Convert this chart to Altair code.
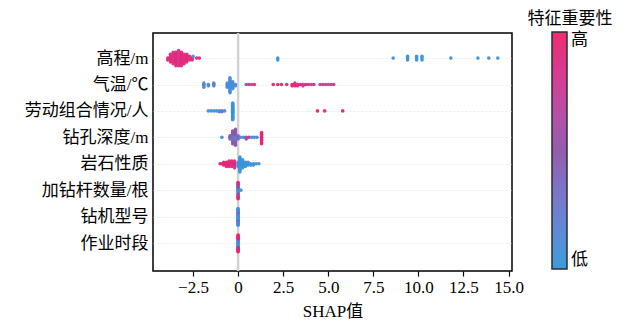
import math
import altair as alt
import pandas as pd

features = ["高程/m", "气温/℃", "劳动组合情况/人", "钻孔深度/m",
            "岩石性质", "加钻杆数量/根", "钻机型号", "作业时段"]

# Each feature: SHAP value of a group of samples, number of samples, feature value (0 = low, 1 = high)
elev_x = [-3.9, -3.75, -3.6, -3.45, -3.3, -3.15, -3.0, -2.85, -2.7, -2.55, -2.5, -2.3, -2.15,
          2.2, 8.6, 9.4, 9.9, 10.2, 11.8, 13.3, 13.9, 14.4]
elev_n = [2, 5, 7, 8, 9, 8, 6, 5, 3, 2, 1, 1, 1,
          2, 1, 3, 3, 3, 1, 1, 1, 1]
elev_c = [0.95, 0.9, 0.85, 0.95, 0.8, 0.95, 0.9, 0.95, 0.9, 0.95, 0.05, 0.95, 0.9,
          0.05, 0.05, 0.05, 0.05, 0.05, 0.05, 0.05, 0.05, 0.05]

temp_x = [-1.9, -1.9, -1.65, -1.35, -0.6, -0.45, -0.3, -0.15,
          0.45, 0.6, 0.75, 0.9, 1.95, 2.2, 2.4, 2.7,
          3.0, 3.15, 3.3, 3.45, 3.6, 3.75, 3.9, 4.05, 4.2,
          4.55, 4.7, 4.85, 5.0, 5.15, 5.3]
temp_n = [2, 2, 2, 3, 4, 12, 6, 2,
          1, 1, 1, 1, 1, 1, 1, 1,
          2, 3, 2, 1, 2, 1, 1, 1, 1,
          1, 1, 1, 1, 1, 1]
temp_c = [0.35, 0.1, 0.1, 0.2, 0.1, 0.08, 0.1, 0.1,
          0.6, 0.85, 0.7, 0.9, 0.95, 0.95, 0.95, 0.9,
          0.95, 0.9, 0.85, 0.95, 0.8, 0.95, 0.9, 0.75, 0.9,
          0.75, 0.8, 0.7, 0.8, 0.75, 0.85]

labor_x = [-1.65, -1.5, -1.35, -1.2, -1.05, -0.9, -0.75, -0.3, 4.4, 4.8, 5.8]
labor_n = [1, 1, 1, 1, 2, 2, 1, 22, 1, 1, 1]
labor_c = [0.05, 0.05, 0.05, 0.1, 0.05, 0.3, 0.1, 0.05, 0.95, 0.95, 0.95]

depth_x = [-0.9, -0.45, -0.3, -0.3, -0.15, -0.15, 0.0,
           0.15, 0.3, 0.45, 0.6, 0.75, 0.9, 1.05, 1.3]
depth_n = [1, 3, 4, 5, 4, 7, 3,
           1, 1, 2, 1, 1, 1, 1, 8]
depth_c = [0.05, 0.45, 0.3, 0.5, 0.2, 0.5, 0.4,
           0.1, 0.1, 0.5, 0.9, 0.1, 0.1, 0.1, 0.95]

rock_x = [-1.0, -0.9, -0.8, -0.65, -0.5, -0.35, -0.35, -0.2, -0.2,
          0.0, 0.1, 0.25, 0.4, 0.55, 0.7, 0.85, 1.0, 1.15]
rock_n = [1, 1, 3, 4, 5, 2, 3, 3, 3,
          4, 12, 7, 4, 3, 2, 2, 1, 1]
rock_c = [0.95, 0.95, 0.9, 0.95, 0.9, 0.7, 0.95, 0.95, 0.8,
          0.1, 0.05, 0.05, 0.05, 0.05, 0.05, 0.05, 0.05, 0.05]

rods_x = [0.0, 0.0, 0.0, 0.15]
rods_n = [6, 7, 5, 1]
rods_c = [0.1, 0.5, 0.95, 0.05]

rig_x = [0.0, 0.0, 0.0]
rig_n = [10, 4, 8]
rig_c = [0.05, 0.45, 0.1]

shift_x = [0.0, 0.0]
shift_n = [10, 12]
shift_c = [0.05, 0.95]

groups = [(elev_x, elev_n, elev_c), (temp_x, temp_n, temp_c), (labor_x, labor_n, labor_c),
          (depth_x, depth_n, depth_c), (rock_x, rock_n, rock_c), (rods_x, rods_n, rods_c),
          (rig_x, rig_n, rig_c), (shift_x, shift_n, shift_c)]

# beeswarm layout (as in shap.summary_plot)
BIN = 0.15
ROW_H = 0.4
records = []
for r, (xs, ns, cs) in enumerate(groups):
    pts = []
    for x, n, c in zip(xs, ns, cs):
        pts += [(x, c)] * n
    q = [round(x / BIN) for x, _ in pts]
    order = sorted(range(len(pts)), key=lambda i: (q[i], i))
    ys = [0] * len(pts)
    layer, last = 0, None
    for i in order:
        if q[i] != last:
            layer = 0
        ys[i] = math.ceil(layer / 2) * ((layer % 2) * 2 - 1)
        layer += 1
        last = q[i]
    m = max(abs(v) for v in ys)
    sc = 0.9 * ROW_H / (m + 1)
    for (x, c), yv in zip(pts, ys):
        records.append({"shap": x, "val": c, "row": r + yv * sc})
df = pd.DataFrame(records)

FONT = "Liberation Serif, Noto Sans CJK SC"
label_expr = "[" + ",".join("'" + f + "'" for f in features) + "][round(datum.value)]"

xscale = alt.Scale(domain=[-4.72, 15.19], nice=False, zero=False)
yscale = alt.Scale(domain=[-0.95, 8.06], reverse=True, nice=False, zero=False)

zero_line = alt.Chart(pd.DataFrame({"z": [0]})).mark_rule(
    color="#d2d2d2", strokeWidth=2.5
).encode(x=alt.X("z:Q", scale=xscale))

points = alt.Chart(df).mark_circle(size=13, opacity=0.95).encode(
    x=alt.X("shap:Q", scale=xscale, title="SHAP值",
            axis=alt.Axis(values=[-2.5, 0, 2.5, 5, 7.5, 10, 12.5, 15],
                          labelExpr="datum.value == 0 ? '0' : format(datum.value, '.1f')",
                          grid=False, domain=False, tickColor="black", tickSize=5,
                          tickWidth=1.2, labelFont=FONT, labelFontSize=17,
                          labelColor="black", labelPadding=3,
                          titleFont=FONT, titleFontSize=17, titleFontWeight="normal",
                          titleColor="black", titlePadding=8)),
    y=alt.Y("row:Q", scale=yscale, title=None,
            axis=alt.Axis(values=list(range(8)), labelExpr=label_expr,
                          grid=True, gridColor="#e6e6e6", gridDash=[2, 2], gridWidth=0.8,
                          domain=False, ticks=False, labelFont=FONT, labelFontSize=17,
                          labelColor="black", labelPadding=5)),
    color=alt.Color("val:Q",
                    scale=alt.Scale(domain=[0, 1], range=["#2F98DA", "#8E54A9", "#EE2268"]),
                    legend=alt.Legend(orient="none", legendX=375, legendY=-22,
                                      direction="vertical", title="特征重要性",
                                      titleFont=FONT, titleFontSize=17,
                                      titleFontWeight="normal", titleColor="black",
                                      titleAnchor="middle", titleAlign="center",
                                      titlePadding=4,
                                      gradientLength=237, gradientThickness=15,
                                      gradientStrokeColor="#222", gradientStrokeWidth=1.5,
                                      values=[0, 1],
                                      labelExpr="datum.value == 1 ? '高' : '低'",
                                      labelFont=FONT, labelFontSize=17, labelColor="black",
                                      labelOffset=4)),
)

chart = alt.layer(zero_line, points).properties(
    width=359, height=238,
    autosize=alt.AutoSizeParams(type="none"),
    padding={"left": 145, "top": 25, "right": 100, "bottom": 50},
).configure_view(stroke="black", strokeWidth=1.5)

chart.save("out.html", embed_options={"renderer": "svg", "actions": False})
